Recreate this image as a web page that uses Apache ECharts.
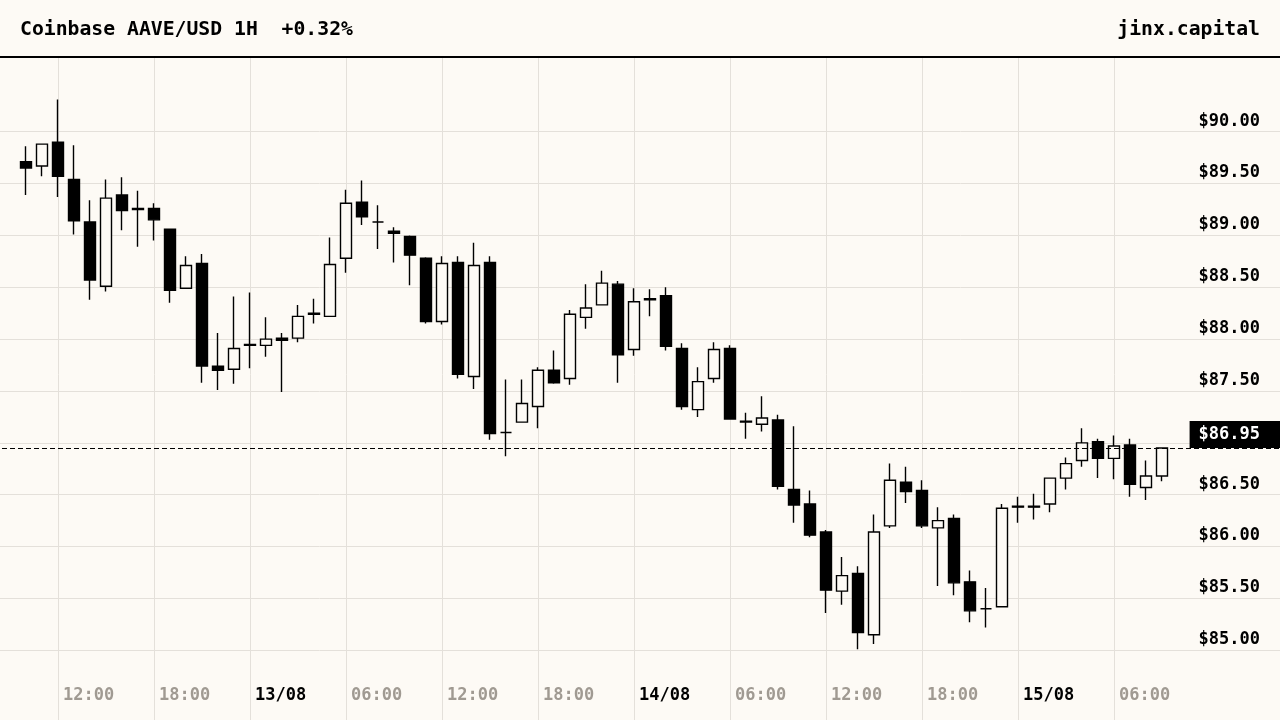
<!DOCTYPE html>
<html><head><meta charset="utf-8">
<script src="https://cdn.jsdelivr.net/npm/echarts@6/dist/echarts.min.js"></script>
<style>html,body{margin:0;padding:0;background:#fdfaf5;}#c{width:1280px;height:720px;}</style>
</head><body><div id="c"></div>
<script>
const titleText = 'Coinbase AAVE/USD 1H  +0.32%';
const brandText = 'jinx.capital';
const startDay = 12, startHour = 10;

const opens = [89.71,89.67,89.90,89.54,89.13,88.51,89.39,89.26,89.26,89.06,
  88.49,88.73,87.74,87.71,87.95,87.94,88.01,88.01,88.25,88.22,
  88.78,89.32,89.13,89.04,88.99,88.78,88.17,88.74,87.64,88.74,
  87.10,87.20,87.35,87.70,87.62,88.21,88.33,88.53,87.90,88.39,
  88.42,87.91,87.32,87.62,87.91,87.21,87.18,87.22,86.55,86.41,
  86.14,85.57,85.74,85.15,86.20,86.62,86.54,86.18,86.27,85.66,
  85.40,85.42,86.39,86.39,86.41,86.66,86.83,87.01,86.85,86.98,
  86.57,86.68];
const closes = [89.65,89.88,89.57,89.14,88.57,89.36,89.24,89.25,89.15,88.47,
  88.71,87.74,87.70,87.91,87.94,88.00,87.99,88.22,88.24,88.72,
  89.31,89.18,89.13,89.02,88.81,88.17,88.73,87.66,88.71,87.09,
  87.10,87.38,87.70,87.58,88.24,88.30,88.54,87.85,88.36,88.38,
  87.93,87.35,87.59,87.90,87.23,87.20,87.24,86.58,86.40,86.11,
  85.58,85.72,85.17,86.14,86.64,86.53,86.20,86.25,85.65,85.38,
  85.40,86.37,86.38,86.38,86.66,86.80,87.00,86.85,86.97,86.60,
  86.68,86.95];
const lows = [89.39,89.57,89.37,89.01,88.38,88.46,89.05,88.89,88.95,88.35,
  88.49,87.58,87.51,87.57,87.72,87.83,87.49,87.97,88.15,88.22,
  88.64,89.10,88.87,88.74,88.52,88.15,88.14,87.62,87.52,87.03,
  86.87,87.20,87.14,87.57,87.56,88.10,88.33,87.58,87.84,88.22,
  87.89,87.32,87.25,87.58,87.23,87.04,87.11,86.55,86.23,86.09,
  85.36,85.44,85.01,85.06,86.18,86.42,86.18,85.62,85.53,85.27,
  85.22,85.42,86.23,86.26,86.33,86.55,86.77,86.66,86.65,86.48,
  86.45,86.63];
const highs = [89.86,89.88,90.31,89.87,89.34,89.54,89.56,89.43,89.31,89.06,
  88.80,88.82,88.06,88.41,88.45,88.21,88.06,88.33,88.39,88.98,
  89.44,89.53,89.29,89.08,89.00,88.79,88.80,88.80,88.93,88.80,
  87.61,87.61,87.73,87.89,88.28,88.53,88.66,88.56,88.49,88.48,
  88.50,87.96,87.73,87.97,87.94,87.29,87.45,87.27,87.16,86.54,
  86.16,85.90,85.81,86.31,86.80,86.77,86.64,86.38,86.31,85.77,
  85.60,86.41,86.48,86.51,86.66,86.86,87.14,87.04,87.07,87.04,
  86.83,86.95];

const tickLabels = ['12:00','18:00','13/08','06:00','12:00','18:00','14/08','06:00','12:00','18:00','15/08','06:00'];
const tickFirst = 2, tickStep = 6;
const yMin = 84, yMax = 91, yStep = 0.5, yShowMin = 85, yShowMax = 90;
const padBefore = 2, padAfter = 8;

const BG = '#fdfaf5';
const GRID = '#e4e0da';
const FONT = '"DejaVu Sans Mono", monospace';

const times = opens.map((_, i) => {
  const h = startHour + i;
  const d = startDay + Math.floor(h / 24);
  return d + '/08 ' + String(h % 24).padStart(2, '0') + ':00';
});
const cats = [];
for (let k = 0; k < padBefore; k++) cats.push('pre' + k);
times.forEach(t => cats.push(t));
for (let k = 0; k < padAfter; k++) cats.push('post' + k);

const candleData = opens.map((o, i) => [times[i], o, closes[i], lows[i], highs[i]]);
const lastClose = closes[closes.length - 1];

function tickPos(index) {
  const i = index - padBefore - tickFirst;
  if (i < 0 || i % tickStep !== 0) return -1;
  const t = i / tickStep;
  return t < tickLabels.length ? t : -1;
}

const nY = Math.round((yMax - yMin) / yStep) + 1;
const splitColors = [];
for (let k = 0; k < nY; k++) {
  const v = yMin + k * yStep;
  splitColors.push(v >= yShowMin - 1e-6 && v <= yShowMax + 1e-6 ? GRID : 'rgba(0,0,0,0)');
}

const chart = echarts.init(document.getElementById('c'));
chart.setOption({
  animation: false,
  backgroundColor: BG,
  grid: { left: -6, right: -10, top: 28, bottom: -34, containLabel: false, outerBoundsMode: 'none' },
  xAxis: {
    type: 'category', data: cats, boundaryGap: false,
    axisLine: { show: false }, axisTick: { show: false, interval: (idx) => tickPos(idx) >= 0 },
    splitLine: { show: true, interval: (idx) => tickPos(idx) >= 0, lineStyle: { color: GRID, width: 1 } },
    axisLabel: {
      inside: true, margin: 58, interval: (idx) => tickPos(idx) >= 0,
      align: 'left', verticalAlign: 'middle', padding: [0, 0, 0, 5],
      formatter: (val, idx) => {
        const t = tickPos(idx);
        if (t < 0) return '';
        const s = tickLabels[t];
        return s.indexOf('/') >= 0 ? '{d|' + s + '}' : '{t|' + s + '}';
      },
      rich: {
        d: { color: '#000', fontWeight: 'bold', fontSize: 17, fontFamily: FONT },
        t: { color: '#a09a92', fontWeight: 'bold', fontSize: 17, fontFamily: FONT }
      }
    }
  },
  yAxis: {
    type: 'value', position: 'right', min: yMin, max: yMax, interval: yStep, scale: true,
    axisLine: { show: false }, axisTick: { show: false },
    splitLine: { show: true, lineStyle: { color: splitColors, width: 1 } },
    axisLabel: {
      inside: true, margin: 30, align: 'right', verticalAlign: 'bottom', lineHeight: 21,
      color: '#000', fontWeight: 'bold', fontSize: 17, fontFamily: FONT,
      formatter: (v) => (v >= yShowMin - 1e-6 && v <= yShowMax + 1e-6) ? '$' + v.toFixed(2) : ''
    }
  },
  series: [{
    type: 'candlestick',
    data: candleData,
    encode: { x: 0, y: [1, 2, 3, 4] },
    barWidth: 10.6,
    itemStyle: {
      color: BG, color0: '#000', borderColor: '#000', borderColor0: '#000',
      borderColorDoji: '#000', borderWidth: 1.4
    },
    markLine: {
      silent: true, symbol: ['none', 'none'], animation: false,
      lineStyle: { color: '#000', type: [5, 3], width: 1 },
      label: {
        position: 'insideEndTop', distance: [0, 0],
        formatter: () => '$' + lastClose.toFixed(2),
        backgroundColor: '#000', color: '#fff', fontWeight: 'bold', fontSize: 17, fontFamily: FONT,
        padding: [5, 30, 5, 9]
      },
      data: [{ yAxis: lastClose }]
    }
  }],
  graphic: [
    { type: 'rect', z: 100, shape: { x: 0, y: 0, width: 1280, height: 56 }, style: { fill: BG } },
    { type: 'rect', z: 101, shape: { x: 0, y: 56, width: 1280, height: 2 }, style: { fill: '#000' } },
    { type: 'text', z: 101, x: 20, y: 29.5, style: { text: titleText, fill: '#000', font: 'bold 19.75px ' + FONT, align: 'left', verticalAlign: 'middle' } },
    { type: 'text', z: 101, x: 1260, y: 29.5, style: { text: brandText, fill: '#000', font: 'bold 19.75px ' + FONT, align: 'right', verticalAlign: 'middle' } }
  ]
});
</script>
</body></html>
